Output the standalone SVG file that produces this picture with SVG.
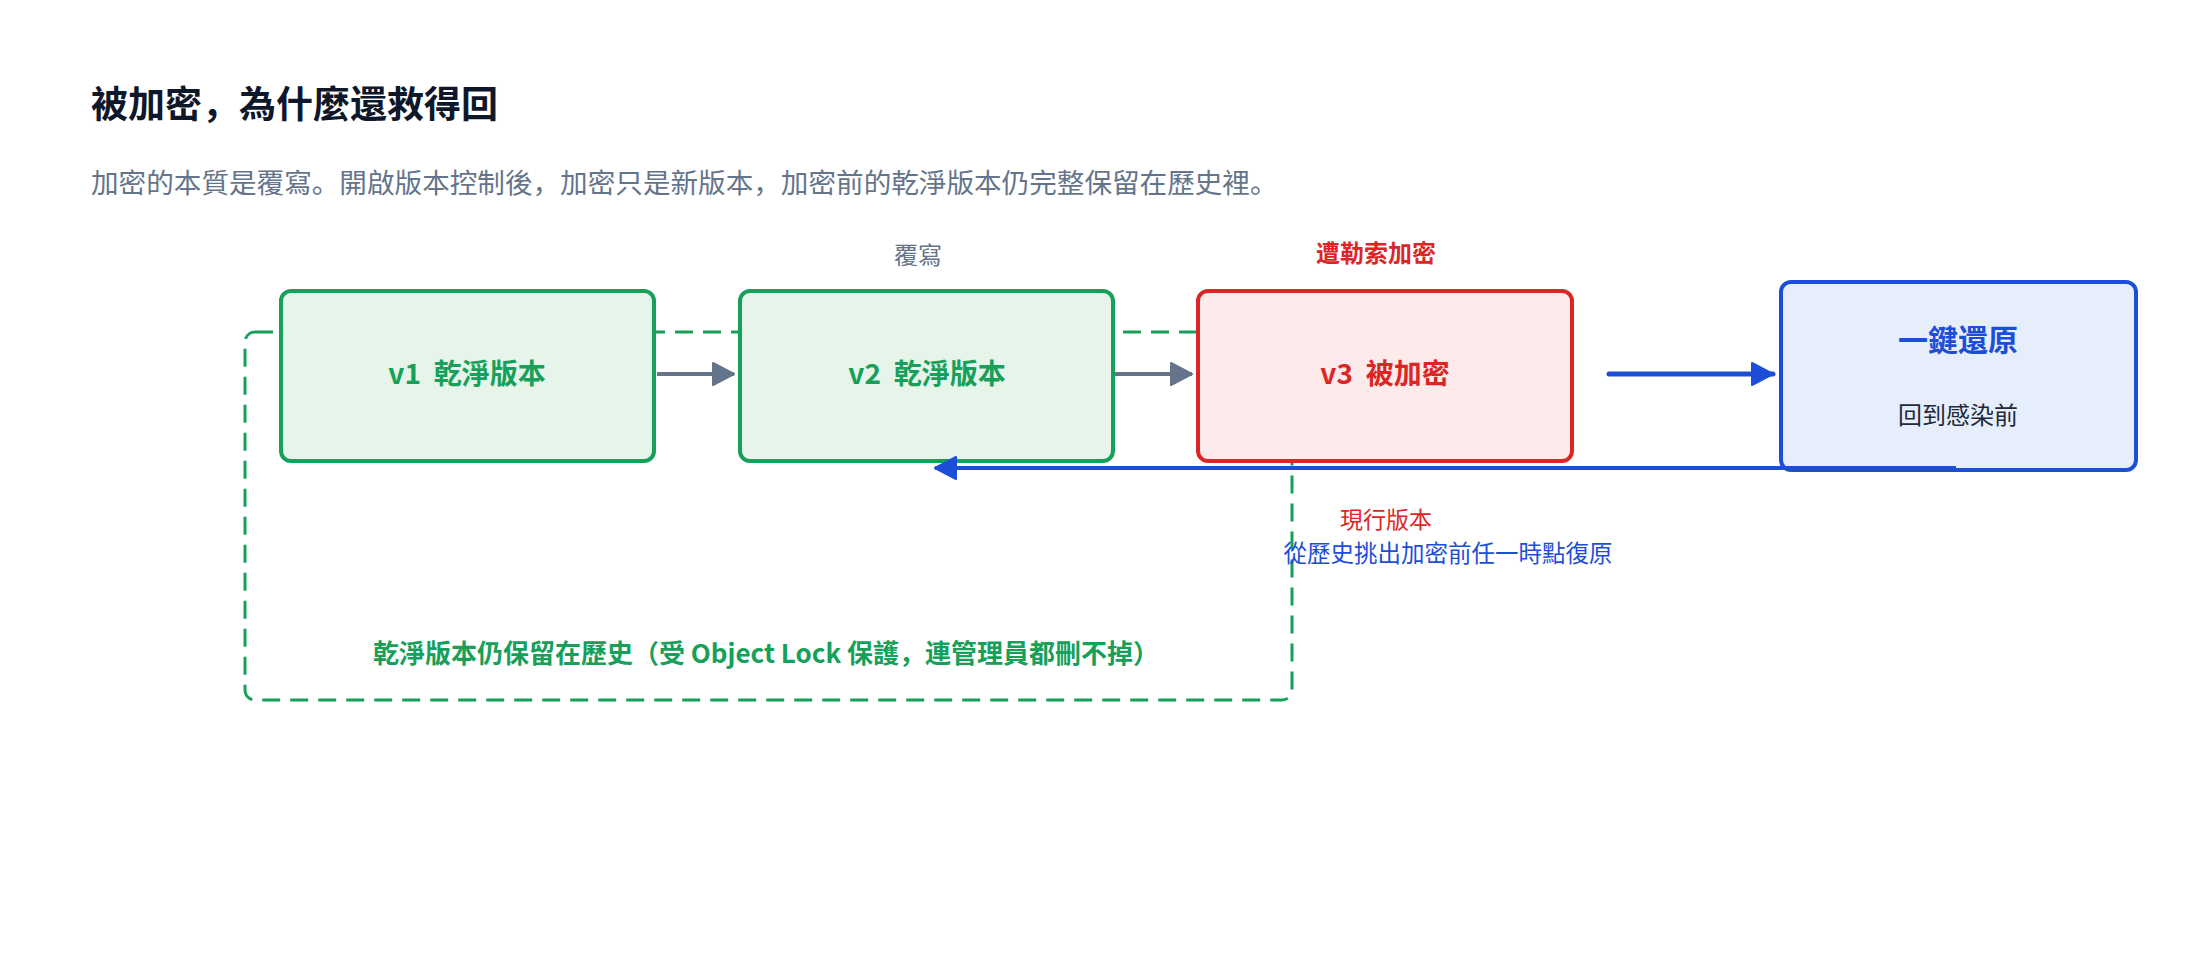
<svg xmlns="http://www.w3.org/2000/svg" width="2188" height="954" viewBox="0 0 2188 954">
  <style>
    text { font-family: "Noto Sans CJK SC", "Noto Sans CJK TC", "Noto Sans", sans-serif; }
    .title { font-size: 37px; font-weight: 700; fill: #0f172a; }
    .sub { font-size: 27.6px; fill: #64748b; }
    .lbl { font-size: 24px; text-anchor: middle; }
    .node-text { font-size: 28px; font-weight: 700; text-anchor: middle; white-space: pre; }
    .green-box { fill: #e6f4ea; stroke: #16a05a; stroke-width: 4; }
    .red-box { fill: #fdeaea; stroke: #dc2626; stroke-width: 4; }
    .blue-box { fill: #e6eefb; stroke: #1d4ed8; stroke-width: 4; }
  </style>
  <defs>
    <marker id="ah-gray" markerUnits="userSpaceOnUse" markerWidth="24" markerHeight="26" refX="22" refY="12" orient="auto">
      <path d="M1,1 L22,12 L1,23 z" fill="#64748b" stroke="#64748b" stroke-width="2" stroke-linejoin="round"/>
    </marker>
    <marker id="ah-blue" markerUnits="userSpaceOnUse" markerWidth="24" markerHeight="26" refX="22" refY="12" orient="auto">
      <path d="M1,1 L22,12 L1,23 z" fill="#1d4ed8" stroke="#1d4ed8" stroke-width="2" stroke-linejoin="round"/>
    </marker>
  </defs>
  <rect width="2188" height="954" fill="#ffffff"/>

  <text class="title" x="91" y="118">被加密，為什麼還救得回</text>
  <text class="sub" x="91" y="193">加密的本質是覆寫。開啟版本控制後，加密只是新版本，加密前的乾淨版本仍完整保留在歷史裡。</text>

  <g id="history-group">
    <rect x="245" y="332" width="1047" height="368" rx="10" fill="none" stroke="#16a05a" stroke-width="3" stroke-dasharray="18 10"/>
    <text class="lbl" x="766" y="663" style="font-size:26px;font-weight:700;fill:#16a05a">乾淨版本仍保留在歷史（受 Object Lock 保護，連管理員都刪不掉）</text>
  </g>

  <g id="v1">
    <rect class="green-box" x="281" y="291" width="373" height="170" rx="10"/>
    <text class="node-text" x="467" y="384" fill="#16a05a" xml:space="preserve">v1  乾淨版本</text>
  </g>
  <g id="v2">
    <rect class="green-box" x="740" y="291" width="373" height="170" rx="10"/>
    <text class="lbl" x="918" y="264" fill="#64748b">覆寫</text>
    <text class="node-text" x="927" y="384" fill="#16a05a" xml:space="preserve">v2  乾淨版本</text>
  </g>
  <g id="v3">
    <rect class="red-box" x="1198" y="291" width="374" height="170" rx="10"/>
    <text class="lbl" x="1376" y="262" fill="#dc2626" font-weight="700">遭勒索加密</text>
    <text class="node-text" x="1385" y="384" fill="#dc2626" xml:space="preserve">v3  被加密</text>
  </g>
  <g id="restore">
    <rect class="blue-box" x="1781" y="282" width="355" height="188" rx="10"/>
    <text class="lbl" x="1958" y="351" fill="#1d4ed8" font-weight="700" style="font-size:30px">一鍵還原</text>
    <text class="lbl" x="1958" y="424" fill="#1e293b">回到感染前</text>
  </g>

  <g id="connectors">
    <line x1="657" y1="374" x2="734" y2="374" stroke="#64748b" stroke-width="4" marker-end="url(#ah-gray)"/>
    <line x1="1115" y1="374" x2="1192" y2="374" stroke="#64748b" stroke-width="4" marker-end="url(#ah-gray)"/>
    <line x1="1609" y1="374" x2="1773" y2="374" stroke="#1d4ed8" stroke-width="5" stroke-linecap="round" marker-end="url(#ah-blue)"/>
    <line x1="1956" y1="468" x2="935" y2="468" stroke="#1d4ed8" stroke-width="4" marker-end="url(#ah-blue)"/>
    <text class="lbl" x="1386" y="528" fill="#dc2626" style="font-size:23px">現行版本</text>
    <text class="lbl" x="1448" y="562" fill="#1d4ed8" style="font-size:23.5px">從歷史挑出加密前任一時點復原</text>
  </g>
</svg>
